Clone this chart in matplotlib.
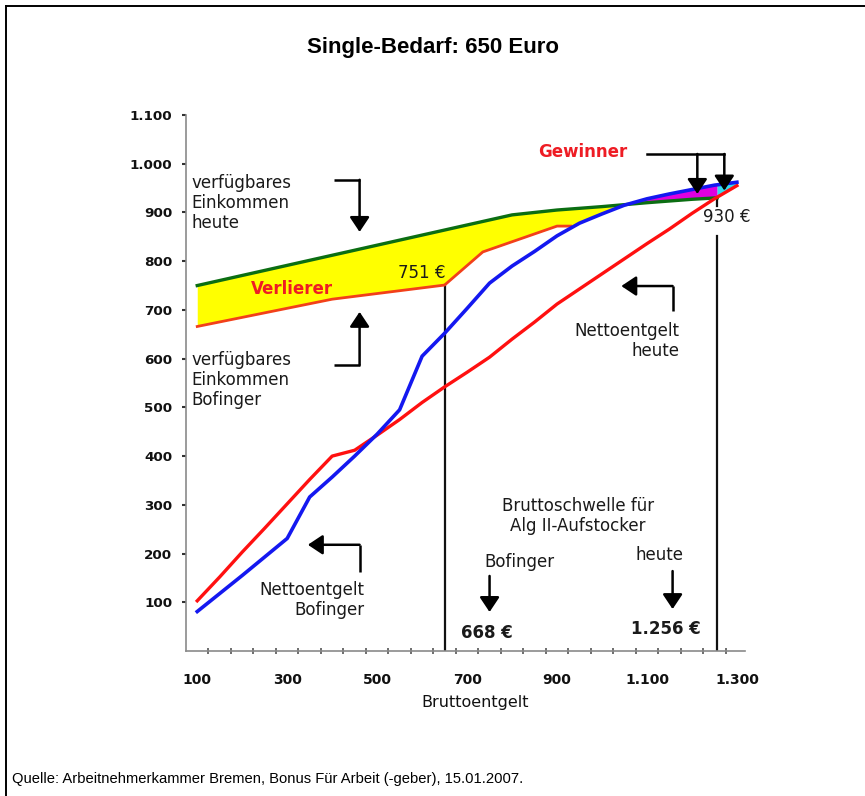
import numpy as np
import matplotlib
matplotlib.use("Agg")
import matplotlib.pyplot as plt
from matplotlib.lines import Line2D

# ---------------- data ----------------
brutto = [100, 150, 200, 250, 300, 350, 400, 450, 500, 550, 600, 650, 700,
          750, 800, 850, 900, 950, 1000, 1050, 1100, 1150, 1200, 1250, 1300]
netto_heute = [103, 152, 203, 252, 302, 352, 400, 412, 443, 475, 510, 542, 572,
               603, 640, 675, 712, 743, 774, 805, 836, 866, 898, 928, 955]
netto_bofinger = [81, 118, 155, 193, 231, 316, 357, 400, 445, 495, 605, 652, 703,
                  755, 790, 820, 852, 878, 897, 915, 928, 938, 947, 956, 962]

verf_heute_x = [100, 800, 900, 1000, 1100, 1200, 1256]
verf_heute_y = [750, 895, 905, 912, 920, 927, 930]

verf_bofinger_x = [100, 400, 650, 735, 900, 930]
verf_bofinger_y = [666, 722, 751, 819, 872, 872]

schwelle_brutto = [650, 1256]     # drawn positions (labelled 668 € / 1.256 €)
schwelle_netto = [751, 930]

x_ticks = [100, 300, 500, 700, 900, 1100, 1300]
x_ticklabels = ["100", "300", "500", "700", "900", "1.100", "1.300"]
y_ticks = [100, 200, 300, 400, 500, 600, 700, 800, 900, 1000, 1100]
y_ticklabels = ["100", "200", "300", "400", "500", "600", "700", "800", "900", "1.000", "1.100"]

title = "Single-Bedarf: 650 Euro"
source = "Quelle: Arbeitnehmerkammer Bremen, Bonus Für Arbeit (-geber), 15.01.2007."

# ---------------- figure ----------------
W, H = 865, 796
fig = plt.figure(figsize=(W / 100, H / 100), dpi=100)
fig.patch.set_facecolor("white")

# outer frame (top and left edge)
fig.add_artist(Line2D([6 / W, 1.0], [1 - 6 / H, 1 - 6 / H], color="black", lw=1.4,
                      transform=fig.transFigure))
fig.add_artist(Line2D([6 / W, 6 / W], [0.0, 1 - 6 / H], color="black", lw=1.4,
                      transform=fig.transFigure))

fig.text(433 / W, 1 - 47 / H, title, ha="center", va="center", fontsize=16,
         fontweight="bold", family="Liberation Sans")
fig.text(12 / W, 1 - 779 / H, source, ha="left", va="center", fontsize=10.6,
         family="Liberation Sans")

ax = fig.add_axes([186 / W, 1 - 651 / H, 559 / W, 536 / H])
ax.set_xlim(75, 1318)
ax.set_ylim(0, 1100)

for s in ["top", "right"]:
    ax.spines[s].set_visible(False)
for s in ["left", "bottom"]:
    ax.spines[s].set_color("#8a8a8a")
    ax.spines[s].set_linewidth(1.2)

ax.set_xticks(x_ticks)
ax.set_xticklabels(x_ticklabels)
ax.set_xticks(np.arange(125, 1318, 50), minor=True)
ax.tick_params(axis="x", which="major", length=0, pad=16, labelsize=10, labelcolor="#111111")
ax.tick_params(axis="x", which="minor", length=4, width=1.2, color="#555555", direction="inout")
ax.set_yticks(y_ticks)
ax.set_yticklabels(y_ticklabels)
ax.tick_params(axis="y", which="major", length=3, width=1.5, color="#333333", pad=7,
               labelsize=9.7, labelcolor="#111111")
for lab in ax.get_xticklabels() + ax.get_yticklabels():
    lab.set_fontweight("bold")

fig.text(475 / W, 1 - 703 / H, "Bruttoentgelt", ha="center", va="center", fontsize=11.5,
         color="#111111")

# ---------------- fills ----------------
xs = np.linspace(100, 1256, 3000)
g = np.interp(xs, verf_heute_x, verf_heute_y)
o = np.interp(xs, verf_bofinger_x, verf_bofinger_y)
b = np.interp(xs, brutto, netto_bofinger)
lower = np.where(xs <= verf_bofinger_x[-1], o, b)
ax.fill_between(xs, lower, g, where=g >= lower, color="#ffff00", lw=0, zorder=1,
                interpolate=True)
ax.fill_between(xs, g, b, where=b >= g, color="#e000e0", lw=0, zorder=1, interpolate=True)
xc = np.linspace(1256, 1300, 200)
bc = np.interp(xc, brutto, netto_bofinger)
rc = np.interp(xc, brutto, netto_heute)
ax.fill_between(xc, rc, bc, where=bc >= rc, color="#33ddee", lw=0, zorder=1, interpolate=True)

# ---------------- lines ----------------
ax.plot(verf_heute_x, verf_heute_y, color="#0b6e12", lw=2.4, zorder=3)
ax.plot(verf_bofinger_x, verf_bofinger_y, color="#f2401a", lw=2.0, zorder=3)
ax.plot(brutto, netto_heute, color="#ff1010", lw=2.4, zorder=4)
ax.plot(brutto, netto_bofinger, color="#1418f0", lw=2.6, zorder=5)

# thresholds
ax.plot([schwelle_brutto[0]] * 2, [0, schwelle_netto[0]], color="#111111", lw=1.6, zorder=2)
ax.plot([schwelle_brutto[1]] * 2, [0, 852], color="#111111", lw=1.6, zorder=2)
ax.plot([schwelle_brutto[1]] * 2, [913, schwelle_netto[1]], color="#111111", lw=1.6, zorder=2)

# ---------------- annotations ----------------
TXT = dict(fontsize=12, color="#1a1a1a", linespacing=1.15)
ax.text(88, 920, "verfügbares\nEinkommen\nheute", ha="left", va="center", **TXT)
ax.text(88, 556, "verfügbares\nEinkommen\nBofinger", ha="left", va="center", **TXT)
ax.text(1172, 637, "Nettoentgelt\nheute", ha="right", va="center", multialignment="right", **TXT)
ax.text(472, 105, "Nettoentgelt\nBofinger", ha="right", va="center", multialignment="right", **TXT)
ax.text(946, 277, "Bruttoschwelle für\nAlg II-Aufstocker", ha="center", va="center",
        multialignment="center", **TXT)
ax.text(817, 183, "Bofinger", ha="center", va="center", **TXT)
ax.text(1128, 197, "heute", ha="center", va="center", **TXT)
ax.text(600, 776, "751 €", ha="center", va="center", **TXT)
ax.text(1277, 891, "930 €", ha="center", va="center", **TXT)
ax.text(743, 37, "668 €", ha="center", va="center", fontsize=12, fontweight="bold",
        color="#1a1a1a")
ax.text(1141, 45, "1.256 €", ha="center", va="center", fontsize=12, fontweight="bold",
        color="#1a1a1a")
ax.text(310, 743, "Verlierer", ha="center", va="center", fontsize=12, fontweight="bold",
        color="#ee1c24", zorder=6)
ax.text(957, 1025, "Gewinner", ha="center", va="center", fontsize=12, fontweight="bold",
        color="#ee1c24")

ALW = 1.8
AST = "-|>,head_length=0.45,head_width=0.3"


def bent_arrow(pts):
    xs_, ys_ = zip(*pts)
    ax.plot(xs_[:-1], ys_[:-1], color="black", lw=ALW, solid_capstyle="butt", zorder=6)
    ax.annotate("", xy=pts[-1], xytext=pts[-2],
                arrowprops=dict(arrowstyle=AST, color="black", lw=ALW,
                                mutation_scale=20, shrinkA=0, shrinkB=0), zorder=6)


bent_arrow([(405, 967), (461, 967), (461, 860)])
bent_arrow([(405, 587), (461, 587), (461, 696)])
bent_arrow([(1157, 698), (1157, 749), (1043, 749)])
bent_arrow([(461, 162), (461, 218), (346, 218)])
bent_arrow([(750, 154), (750, 80)])
bent_arrow([(1157, 164), (1157, 86)])
ax.plot([1099, 1272], [1020, 1020], color="black", lw=ALW, zorder=6)
bent_arrow([(1212, 1020), (1212, 938)])
bent_arrow([(1272, 1020), (1272, 945)])

fig.savefig("out.png", dpi=100, facecolor="white")
